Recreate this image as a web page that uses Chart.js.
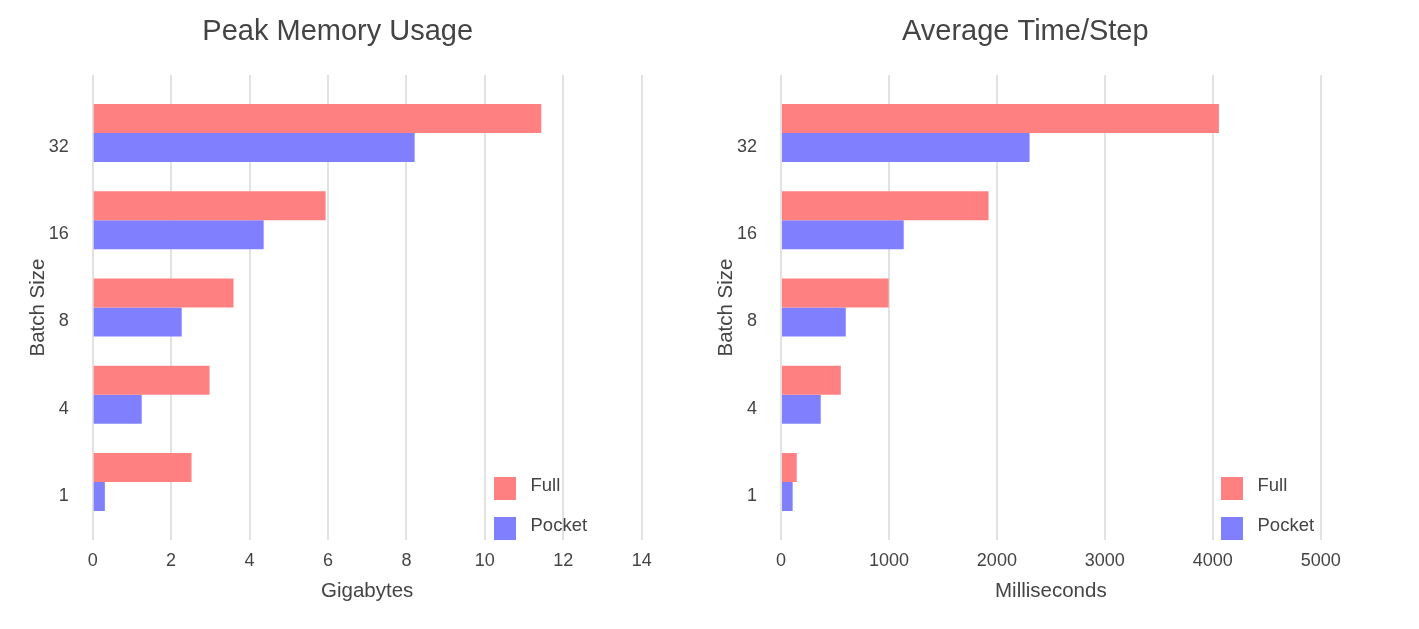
<!DOCTYPE html>
<html>
<head>
<meta charset="utf-8">
<script src="https://cdn.jsdelivr.net/npm/chart.js@4"></script>
<style>
  body { margin: 0; background: #fff; }
  .box { position: absolute; top: 0; height: 629px; }
  #leftBox { left: 0; width: 709px; }
  #rightBox { left: 709px; width: 710px; }
</style>
</head>
<body>
<div class="box" id="leftBox"><canvas id="memChart"></canvas></div>
<div class="box" id="rightBox"><canvas id="timeChart"></canvas></div>
<script>
// batch sizes, top to bottom
const batchSizes = ['32', '16', '8', '4', '1'];

// peak memory, GB
const memoryFull = [11.44, 5.94, 3.59, 2.98, 2.52];
const memoryPocket = [8.21, 4.36, 2.27, 1.25, 0.31];
const memoryTicks = [0, 2, 4, 6, 8, 10, 12, 14];

// average time per step, ms
const timeFull = [4057, 1923, 997, 554, 146];
const timePocket = [2303, 1137, 600, 368, 108];
const timeTicks = [0, 1000, 2000, 3000, 4000, 5000];

const textColor = '#444';
const fullColor = 'rgb(255, 128, 128)';
const pocketColor = 'rgb(128, 128, 255)';
Chart.defaults.font.family = '"Liberation Sans", Arial, sans-serif';
Chart.defaults.color = textColor;

// legend drawn inside the plot, lower right
const innerLegend = {
	id: 'innerLegend',
	afterDraw(chart, args, opts) {
		const ctx = chart.ctx;
		const area = chart.chartArea;
		ctx.save();
		ctx.font = '18.5px "Liberation Sans", Arial, sans-serif';
		ctx.textBaseline = 'middle';
		chart.data.datasets.forEach((ds, i) => {
			const top = area.bottom - 63 + i * 40;
			ctx.fillStyle = ds.backgroundColor;
			ctx.fillRect(area.left + opts.x, top, 22, 23);
			ctx.fillStyle = textColor;
			ctx.fillText(ds.label, area.left + opts.x + 36.5, top + 9);
		});
		ctx.restore();
	}
};

function toPoints(values) {
	return values.map((v, i) => ({ x: v, y: i }));
}

function makeChart(id, o) {
	return new Chart(document.getElementById(id), {
		type: 'bar',
		data: {
			datasets: [
				{ label: 'Full', data: toPoints(o.full), backgroundColor: fullColor },
				{ label: 'Pocket', data: toPoints(o.pocket), backgroundColor: pocketColor }
			]
		},
		options: {
			indexAxis: 'y',
			responsive: true,
			maintainAspectRatio: false,
			animation: false,
			layout: { padding: { left: o.padLeft, right: o.padRight, top: 15, bottom: 25 } },
			datasets: { bar: { categoryPercentage: 0.665, barPercentage: 1, borderWidth: 0 } },
			plugins: {
				legend: { display: false },
				tooltip: { enabled: false },
				title: {
					display: true,
					text: o.title,
					color: textColor,
					font: { size: 29, weight: 'normal' },
					padding: { top: 0, bottom: 25.2 }
				},
				innerLegend: { x: o.legendX }
			},
			scales: {
				x: {
					type: 'linear',
					min: 0,
					max: o.ticks[o.ticks.length - 1],
					afterBuildTicks: (s) => { s.ticks = o.ticks.map((v) => ({ value: v })); },
					grid: { color: '#e2e2e2', lineWidth: 2, drawTicks: false },
					border: { display: false },
					ticks: { padding: 10.5, color: textColor, font: { size: 18 }, callback: (v) => String(v) },
					title: {
						display: true,
						text: o.xTitle,
						color: textColor,
						font: { size: 20.5 },
						padding: { top: -3.2, bottom: 0 }
					}
				},
				y: {
					type: 'linear',
					reverse: true,
					offset: false,
					min: -0.666,
					max: batchSizes.length - 1 + 0.666,
					afterBuildTicks: (s) => { s.ticks = batchSizes.map((b, i) => ({ value: i })); },
					afterFit: (s) => { s.width = o.yWidth; },
					grid: { display: false, offset: false },
					border: { display: false },
					ticks: {
						padding: 16,
						labelOffset: 14,
						color: textColor,
						font: { size: 18 },
						callback: (v) => batchSizes[v]
					},
					title: {
						display: true,
						text: 'Batch Size',
						color: textColor,
						font: { size: 20.5 },
						padding: { top: o.yTitlePad, bottom: 0 }
					}
				}
			}
		},
		plugins: [innerLegend]
	});
}

makeChart('memChart', {
	title: 'Peak Memory Usage',
	xTitle: 'Gigabytes',
	full: memoryFull,
	pocket: memoryPocket,
	ticks: memoryTicks,
	padLeft: 33.7,
	padRight: 67.3,
	yWidth: 59,
	yTitlePad: -7.4,
	legendX: 401.3
});

makeChart('timeChart', {
	title: 'Average Time/Step',
	xTitle: 'Milliseconds',
	full: timeFull,
	pocket: timePocket,
	ticks: timeTicks,
	padLeft: 20.9,
	padRight: 98.3,
	yWidth: 51.1,
	yTitlePad: -15.4,
	legendX: 440
});
</script>
</body>
</html>
